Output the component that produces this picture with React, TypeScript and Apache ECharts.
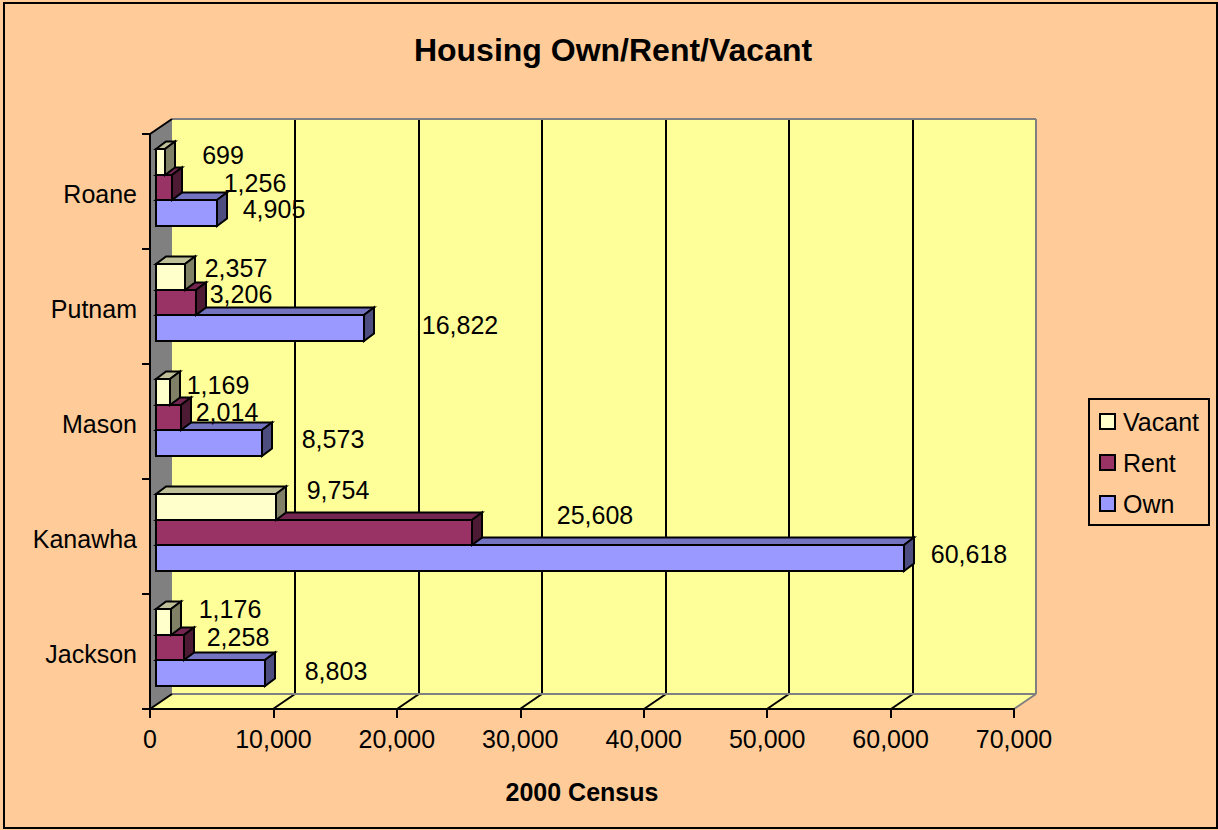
import React, { useEffect, useRef } from "react";
import * as echarts from "echarts";

const categories = ["Jackson", "Kanawha", "Mason", "Putnam", "Roane"];
const own = [8803, 60618, 8573, 16822, 4905];
const rent = [2258, 25608, 2014, 3206, 1256];
const vacant = [1176, 9754, 1169, 2357, 699];
const xTicks = [0, 10000, 20000, 30000, 40000, 50000, 60000, 70000];

// Label placement relative to the bar end and bar centre (layout only, not data)
const ownLabelShift = [[71, -2], [65, -4], [71, -4], [96, -3], [57, -4]];
const rentLabelShift = [[54, -11], [123, -18], [46, -6], [45, -9], [83, -5]];
const vacantLabelShift = [[59, -13], [62, -17], [48, -6.5], [51, -9], [58, -7]];

const FONT = '"Liberation Sans", Arial, sans-serif';
const DEPTH_X = 22;
const DEPTH_Y = -15;
const BAR_OFF_X = 6;
const BAR_OFF_Y = -4;
const BAR_DX = 10;
const BAR_DY = -7.5;
const WALL = "#FFFF99";
const GREY = "#808080";
const R = Math.round;

const fmt = (v: number) => v.toLocaleString("en-US");

function wallItem(_p: any, api: any) {
  const [x0, yB] = api.coord([0, categories[0]]);
  const band = api.size([0, 1])[1];
  const bottom = R(yB + band / 2);
  const top = R(bottom - band * categories.length);
  const xEnd = api.coord([70000, categories[0]])[0];
  const children: any[] = [];
  const poly = (points: number[][], fill: string) => ({
    type: "polygon",
    shape: { points },
    style: { fill, stroke: "none" },
  });
  const line = (a: number[], b: number[], stroke: string) => ({
    type: "line",
    shape: { x1: a[0], y1: a[1], x2: b[0], y2: b[1] },
    style: { stroke, lineWidth: 2 },
  });
  children.push(
    poly([[x0 + DEPTH_X, top + DEPTH_Y], [xEnd + DEPTH_X, top + DEPTH_Y], [xEnd + DEPTH_X, bottom + DEPTH_Y], [x0 + DEPTH_X, bottom + DEPTH_Y]], WALL),
    poly([[x0, bottom], [x0 + DEPTH_X, bottom + DEPTH_Y], [xEnd + DEPTH_X, bottom + DEPTH_Y], [xEnd, bottom]], WALL),
    poly([[x0, top], [x0 + DEPTH_X, top + DEPTH_Y], [x0 + DEPTH_X, bottom + DEPTH_Y], [x0, bottom]], GREY)
  );
  xTicks.forEach((t) => {
    const x = R(api.coord([t, categories[0]])[0]);
    if (t > 0 && t < 70000) {
      children.push(line([x + DEPTH_X, top + DEPTH_Y], [x + DEPTH_X, bottom + DEPTH_Y], "#000"));
      children.push(line([x, bottom], [x + DEPTH_X, bottom + DEPTH_Y], "#000"));
    }
  });
  children.push(
    line([x0 + DEPTH_X, top + DEPTH_Y], [xEnd + DEPTH_X, top + DEPTH_Y], GREY),
    line([xEnd + DEPTH_X, top + DEPTH_Y], [xEnd + DEPTH_X, bottom + DEPTH_Y], GREY),
    line([x0 + DEPTH_X, bottom + DEPTH_Y], [xEnd + DEPTH_X, bottom + DEPTH_Y], GREY),
    line([xEnd, bottom], [xEnd + DEPTH_X, bottom + DEPTH_Y], GREY),
    line([x0, bottom], [x0 + DEPTH_X, bottom + DEPTH_Y], "#000"),
    line([x0, top], [x0 + DEPTH_X, top + DEPTH_Y], "#000")
  );
  return { type: "group", children };
}

function barItem(slot: number, colors: string[], shifts: number[][]) {
  return (params: any, api: any) => {
    const idx = params.dataIndex;
    const value = api.value(0);
    const [x0, yc] = api.coord([0, api.value(1)]);
    const xv = api.coord([value, api.value(1)])[0];
    const band = api.size([0, 1])[1];
    const h = band * 0.223;
    const left = R(x0 + BAR_OFF_X);
    const right = R(xv + BAR_OFF_X);
    const cy = yc + BAR_OFF_Y + slot * h;
    const t = R(cy - h / 2);
    const b = R(cy + h / 2);
    const st = (fill: string) => ({ fill, stroke: "#000", lineWidth: 2, lineJoin: "miter" });
    return {
      type: "group",
      children: [
        { type: "polygon", shape: { points: [[left, t], [left + BAR_DX, t + BAR_DY], [right + BAR_DX, t + BAR_DY], [right, t]] }, style: st(colors[1]) },
        { type: "polygon", shape: { points: [[right, t], [right + BAR_DX, t + BAR_DY], [right + BAR_DX, b + BAR_DY], [right, b]] }, style: st(colors[2]) },
        { type: "rect", shape: { x: left, y: t, width: right - left, height: b - t }, style: st(colors[0]) },
        {
          type: "text",
          x: right + shifts[idx][0],
          y: cy + shifts[idx][1],
          style: { text: fmt(value), fontFamily: FONT, fontSize: 25, fill: "#000", align: "center", verticalAlign: "middle" },
        },
      ],
    };
  };
}

const seriesData = (vals: number[]) => vals.map((v, i) => [v, categories[i]]);

export default function App() {
  const ref = useRef<HTMLDivElement>(null);
  useEffect(() => {
    const chart = echarts.init(ref.current!, undefined, { renderer: "svg" });
    const labelBase = { fontFamily: FONT, fontSize: 25, color: "#000" };
    const legendItem = (name: string, color: string) => ({
      name,
      icon: "rect",
      itemStyle: { color, borderColor: "#000", borderWidth: 2 },
    });
    chart.setOption({
      animation: false,
      backgroundColor: "#FFCC99",
      title: {
        text: "Housing Own/Rent/Vacant",
        left: 608,
        top: 29,
        textAlign: "center",
        textStyle: { fontFamily: FONT, fontSize: 32, fontWeight: "bold", color: "#000" },
      },
      legend: {
        orient: "vertical",
        left: 1089,
        top: 399,
        padding: [10, 10, 9, 10],
        itemWidth: 15,
        itemHeight: 15,
        itemGap: 16,
        borderColor: "#000",
        borderWidth: 2,
        textStyle: { ...labelBase, padding: [0, 0, 0, 3] },
        data: [legendItem("Vacant", "#FFFFCC"), legendItem("Rent", "#993366"), legendItem("Own", "#9999FF")],
      },
      grid: { left: 150, top: 134, width: 864, height: 575, containLabel: false },
      xAxis: {
        type: "value",
        min: 0,
        max: 70000,
        interval: 10000,
        z: 3,
        splitLine: { show: false },
        axisLine: { show: true, onZero: false, lineStyle: { color: "#000", width: 2 } },
        axisTick: { show: true, length: 9, lineStyle: { color: "#000", width: 2 } },
        axisLabel: { ...labelBase, margin: 17, showMinLabel: true, showMaxLabel: true, formatter: (v: number) => fmt(v) },
        name: "2000 Census",
        nameLocation: "middle",
        nameGap: 70,
        nameTextStyle: { fontFamily: FONT, fontSize: 25, fontWeight: "bold", color: "#000" },
      },
      yAxis: {
        type: "category",
        data: categories,
        z: 3,
        axisLine: { show: true, lineStyle: { color: "#000", width: 2 } },
        axisTick: { show: true, length: 8, alignWithLabel: false, lineStyle: { color: "#000", width: 2 } },
        axisLabel: { ...labelBase, margin: 13, verticalAlign: "top", lineHeight: 5 },
      },
      series: [
        { type: "custom", name: "wall", silent: true, z: 1, renderItem: wallItem, data: [[0, categories[0]]], encode: { x: 0, y: 1 }, tooltip: { show: false } },
        { type: "custom", name: "Own", z: 2, renderItem: barItem(1, ["#9999FF", "#7373BF", "#4D4D80"], ownLabelShift), data: seriesData(own), encode: { x: 0, y: 1 }, itemStyle: { color: "#9999FF" } },
        { type: "custom", name: "Rent", z: 2, renderItem: barItem(0, ["#993366", "#732650", "#4D1A33"], rentLabelShift), data: seriesData(rent), encode: { x: 0, y: 1 }, itemStyle: { color: "#993366" } },
        { type: "custom", name: "Vacant", z: 2, renderItem: barItem(-1, ["#FFFFCC", "#BFBF99", "#808066"], vacantLabelShift), data: seriesData(vacant), encode: { x: 0, y: 1 }, itemStyle: { color: "#FFFFCC" } },
      ],
      graphic: [
        { type: "rect", z: 0, shape: { x: 4, y: 3, width: 1213, height: 825 }, style: { fill: "none", stroke: "#000", lineWidth: 2 } },
      ],
    });
    return () => chart.dispose();
  }, []);
  return <div ref={ref} style={{ position: "absolute", left: 0, top: 0, width: 1218, height: 830 }} />;
}
